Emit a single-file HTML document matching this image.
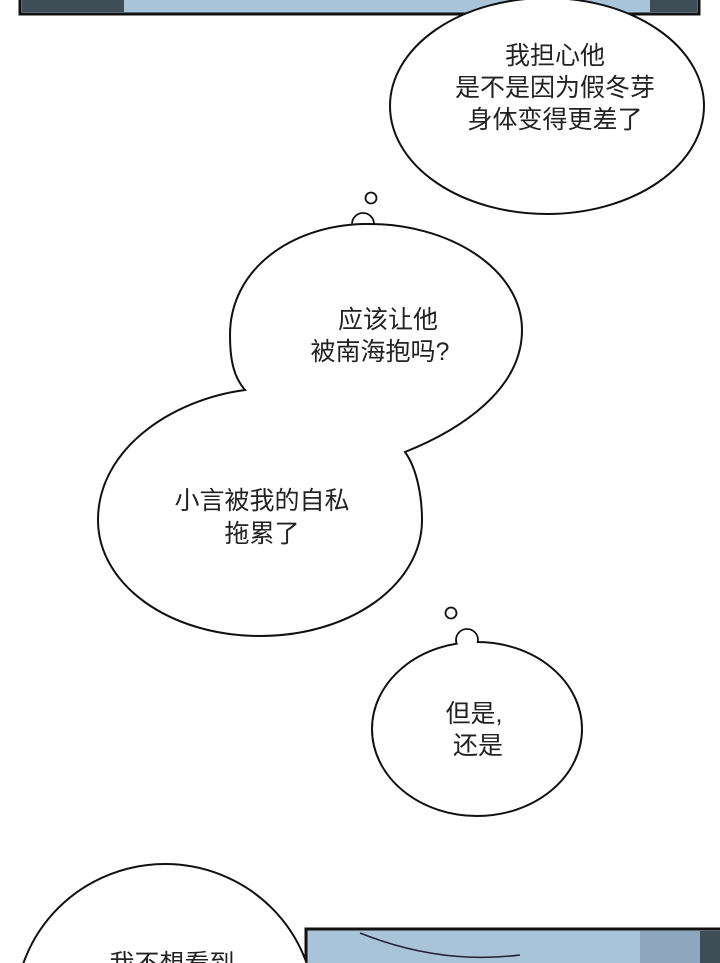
<!DOCTYPE html>
<html><head><meta charset="utf-8"><style>
body{margin:0;background:#fff;width:720px;height:963px;overflow:hidden}
svg{display:block}
text{font-family:"Liberation Sans","Noto Sans CJK SC",sans-serif;font-size:25px;fill:#222;text-anchor:middle}
</style></head><body>
<svg width="720" height="963" viewBox="0 0 720 963">
<rect x="20" y="-2" width="679" height="16" fill="#a9c3d9" stroke="#111" stroke-width="3"/>
<rect x="22" y="0" width="102" height="12" fill="#3f4d57"/>
<rect x="650" y="0" width="47" height="12" fill="#3f4d57"/>
<rect x="306" y="929" width="416" height="40" fill="#a9c3d9" stroke="#111" stroke-width="3"/>
<rect x="640" y="931" width="80" height="40" fill="#8fa7bc"/>
<rect x="700" y="931" width="20" height="40" fill="#3f4d57"/>
<path d="M360 933 Q440 965 520 955" stroke="#223" fill="none" stroke-width="1.5"/>
<ellipse cx="547" cy="106" rx="157" ry="108" fill="#fff" stroke="#111" stroke-width="2"/>
<text x="555" y="64">我担心他</text>
<text x="555" y="96">是不是因为假冬芽</text>
<text x="555" y="128">身体变得更差了</text>
<circle cx="371" cy="198" r="5.5" fill="#fff" stroke="#111" stroke-width="1.8"/>
<circle cx="363" cy="224" r="11" fill="#fff" stroke="#111" stroke-width="1.8"/>
<path d="M363 224 C450 222 522 270 522 330 C522 390 460 430 405 452 C418 470 422 500 422 520 C422 585 350 636 260 636 C170 636 98 585 98 520 C98 450 170 400 245 390 C232 375 230 355 230 335 C230 270 290 226 363 224 Z" fill="#fff" stroke="#111" stroke-width="2"/>
<text x="388" y="328">应该让他</text>
<text x="380" y="360">被南海抱吗?</text>
<text x="262" y="509">小言被我的自私</text>
<text x="262" y="542">拖累了</text>
<circle cx="451" cy="613" r="5.5" fill="#fff" stroke="#111" stroke-width="1.8"/>
<circle cx="467" cy="640" r="11" fill="#fff" stroke="#111" stroke-width="1.8"/>
<ellipse cx="477" cy="729" rx="105" ry="87" fill="#fff" stroke="#111" stroke-width="2"/>
<circle cx="467" cy="640" r="10" fill="#fff"/>
<text x="474" y="722">但是,</text>
<text x="478" y="754">还是</text>
<ellipse cx="165" cy="1012" rx="150" ry="148" fill="#fff" stroke="#111" stroke-width="2"/>
<text x="172" y="972">我不想看到</text>
</svg>
</body></html>
